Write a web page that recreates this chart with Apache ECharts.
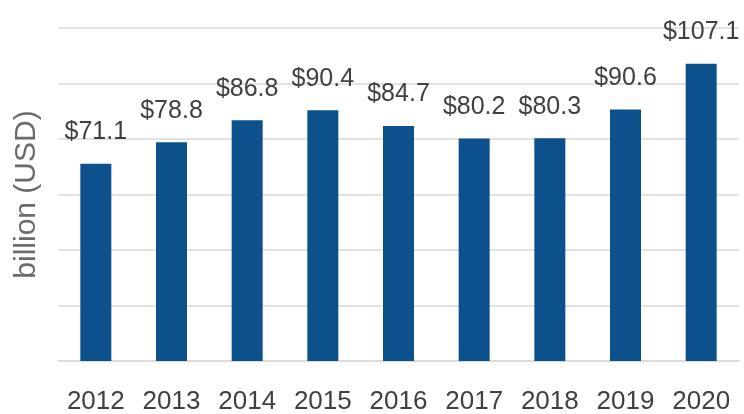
<!DOCTYPE html>
<html>
<head>
<meta charset="utf-8">
<script src="https://cdn.jsdelivr.net/npm/echarts@6/dist/echarts.min.js"></script>
<style>
  html, body { margin: 0; padding: 0; background: #fff; }
  #chart { width: 744px; height: 414px; }
</style>
</head>
<body>
<div id="chart"></div>
<script>
// 数据
const years = ['2012', '2013', '2014', '2015', '2016', '2017', '2018', '2019', '2020'];
const values = [71.1, 78.8, 86.8, 90.4, 84.7, 80.2, 80.3, 90.6, 107.1];

const chart = echarts.init(document.getElementById('chart'));
chart.setOption({
    animation: false,
    grid: { left: 58, right: 5, top: 28, bottom: 53, outerBoundsMode: 'none' },
    xAxis: {
        type: 'category',
        data: years,
        axisLine: { lineStyle: { color: '#d9d9d9', width: 1.5 } },
        axisTick: { show: false },
        axisLabel: {
            interval: 0,
            hideOverlap: false,
            color: '#404040',
            fontFamily: 'Liberation Sans',
            fontSize: 26,
            margin: 28
        }
    },
    yAxis: {
        type: 'value',
        min: 0,
        max: 120,
        interval: 20,
        name: 'billion (USD)',
        nameLocation: 'middle',
        nameGap: 16,
        nameTextStyle: {
            color: '#6b6b6b',
            fontFamily: 'Liberation Sans',
            fontSize: 30
        },
        axisLabel: { show: false },
        axisLine: { show: false },
        axisTick: { show: false },
        splitLine: { lineStyle: { color: '#d9d9d9', width: 1.5 } }
    },
    series: [{
        type: 'bar',
        data: values,
        barWidth: 31,
        itemStyle: { color: '#0c508c' },
        label: {
            show: true,
            position: 'top',
            distance: 19,
            color: '#404040',
            fontFamily: 'Liberation Sans',
            fontSize: 25,
            formatter: p => '$' + p.value.toFixed(1)
        }
    }]
});
</script>
</body>
</html>
